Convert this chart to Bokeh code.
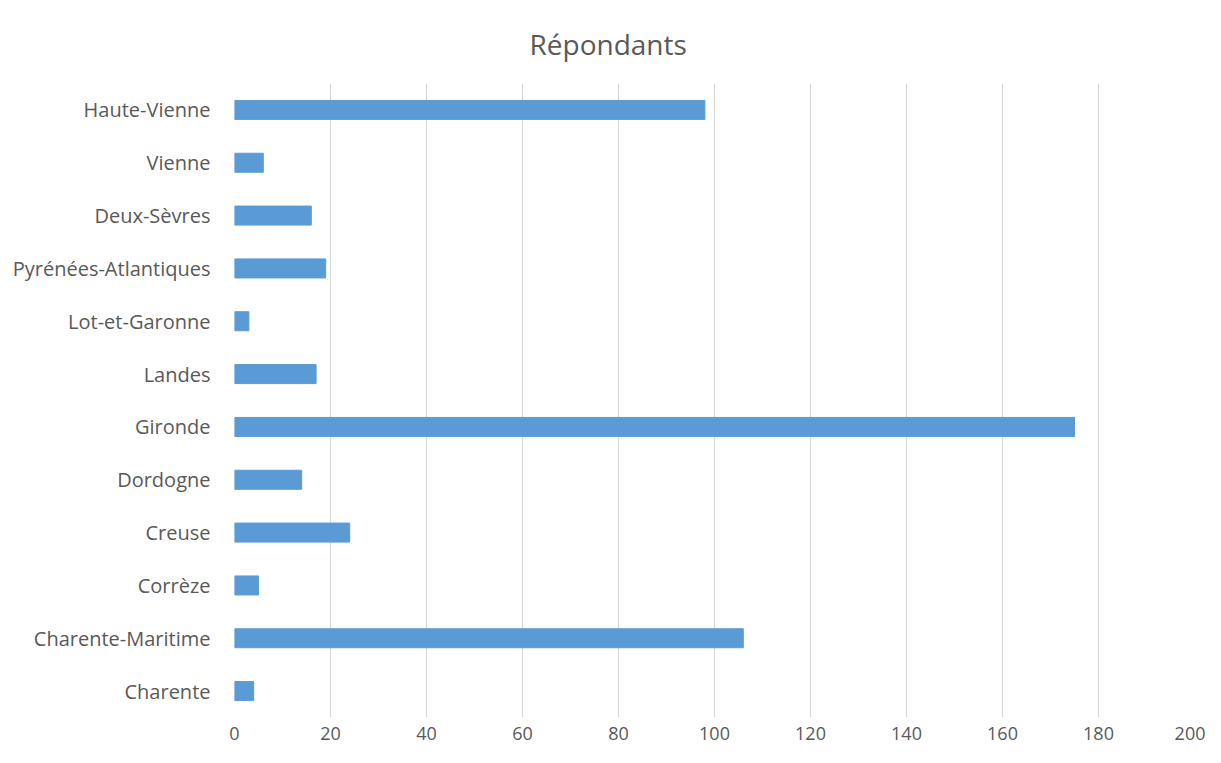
from bokeh.plotting import figure
from bokeh.models import FactorRange, Range1d
from bokeh.embed import file_html
from bokeh.resources import INLINE

departements = ["Charente", "Charente-Maritime", "Corrèze", "Creuse", "Dordogne",
                "Gironde", "Landes", "Lot-et-Garonne", "Pyrénées-Atlantiques",
                "Deux-Sèvres", "Vienne", "Haute-Vienne"]
repondants = [4, 106, 5, 24, 14, 175, 17, 3, 19, 16, 6, 98]
x_ticks = [0, 20, 40, 60, 80, 100, 120, 140, 160, 180, 200]
titre = "Répondants"

FONT = "Open Sans"
GREY = "#595959"

p = figure(width=1205, height=747, output_backend="svg", toolbar_location=None,
           y_range=FactorRange(factors=departements, range_padding=0),
           x_range=Range1d(0, 200), title=titre)
p.min_border_left = 234
p.min_border_right = 11
p.min_border_top = 83
p.min_border_bottom = 30
p.outline_line_color = None

p.hbar(y=departements, right=repondants, left=0, height=0.36,
       fill_color="#5B9BD5", line_color="#5B9BD5")

p.title.text_font = FONT
p.title.text_font_size = "28px"
p.title.text_font_style = "normal"
p.title.text_color = GREY
p.title.align = "left"
p.title.offset = 295
p.title.standoff = 41

p.xaxis.ticker = x_ticks
p.xaxis.axis_line_color = None
p.xaxis.major_tick_line_color = None
p.xaxis.minor_tick_line_color = None
p.xaxis.major_label_text_font = FONT
p.xaxis.major_label_text_font_size = "18px"
p.xaxis.major_label_text_color = GREY
p.xaxis.major_label_standoff = 3

p.yaxis.axis_line_color = None
p.yaxis.major_tick_line_color = None
p.yaxis.minor_tick_line_color = None
p.yaxis.major_label_text_font = FONT
p.yaxis.major_label_text_font_size = "20px"
p.yaxis.major_label_text_color = GREY
p.yaxis.major_label_standoff = 18

p.ygrid.grid_line_color = None
p.xgrid.grid_line_color = "#D9D9D9"
p.xgrid.grid_line_width = 1.3

open("out.html", "w").write(file_html(p, INLINE))
